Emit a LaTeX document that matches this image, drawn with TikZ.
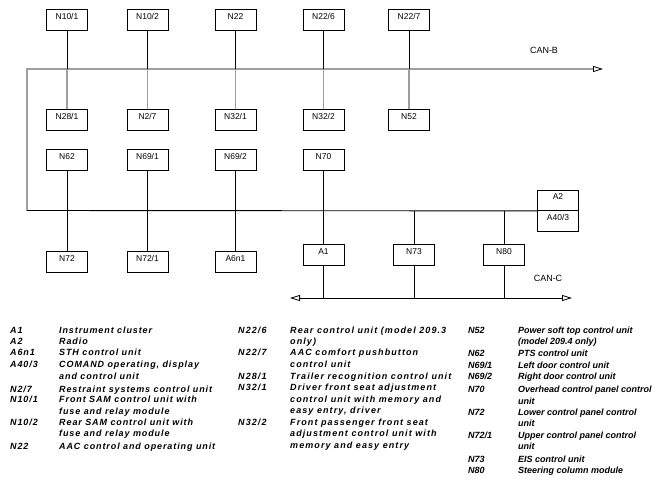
\documentclass[tikz,border=0pt]{standalone}
\usepackage{fontspec}
\setmainfont{Liberation Sans}
\newfontfamily\legfont{Liberation Sans}[LetterSpace=10]
\newfontfamily\legfontb{Liberation Sans}[LetterSpace=12]
\newfontfamily\legfontc{Liberation Sans}[LetterSpace=0]
\usetikzlibrary{arrows.meta}
\newcommand\legml[1]{\begin{tabular}[t]{@{}l@{}}#1\end{tabular}}
\begin{document}
\begin{tikzpicture}[x=1pt,y=-1pt,
  ecu/.style={draw,line width=0.8pt,minimum width=41pt,minimum height=21pt,
    inner xsep=1pt,inner ysep=3pt,text height=7pt,text depth=8pt,
    font=\fontsize{8.5}{10}\selectfont},
  half/.style={ecu,minimum height=20.5pt,text depth=7.5pt},
  wire/.style={line width=0.9pt,draw=black},
  graywire/.style={line width=1.3pt,draw=black!38},
  buslbl/.style={inner sep=0pt,font=\fontsize{9}{10}\selectfont},
  legc/.style={anchor=base west,inner sep=0pt,
    font=\legfont\bfseries\itshape\fontsize{9}{11.5}\selectfont},
  legcb/.style={legc,font=\legfontb\bfseries\itshape\fontsize{9}{11.5}\selectfont},
  legcc/.style={legc,font=\legfontc\bfseries\itshape\fontsize{9}{11.5}\selectfont},
  otip/.tip={Triangle[open,length=10pt,width=6pt,line width=0.8pt,black]}
]
\useasboundingbox (0,0) rectangle (665,487);
% top row
\node[ecu] (n101) at (67,20) {N10/1};
\node[ecu] (n102) at (147.5,20) {N10/2};
\node[ecu] (n22) at (235.5,20) {N22};
\node[ecu] (n226) at (323.5,20) {N22/6};
\node[ecu] (n227) at (409,20) {N22/7};
% second row
\node[ecu] (n281) at (67,120) {N28/1};
\node[ecu] (n27) at (147.5,120) {N2/7};
\node[ecu] (n321) at (235.5,120) {N32/1};
\node[ecu] (n322) at (323.5,120) {N32/2};
\node[ecu] (n52) at (409,120) {N52};
% third row
\node[ecu] (n62) at (67,160) {N62};
\node[ecu] (n691) at (147.5,160) {N69/1};
\node[ecu] (n692) at (235.5,160) {N69/2};
\node[ecu] (n70) at (323.5,160) {N70};
% fourth row
\node[ecu] (n72) at (67,261.5) {N72};
\node[ecu] (n721) at (147.5,261.5) {N72/1};
\node[ecu] (a6n1) at (235.5,261.5) {A6n1};
\node[ecu] (a1) at (323.5,254.5) {A1};
\node[ecu] (n73) at (414,254.5) {N73};
\node[ecu] (n80) at (504,254.5) {N80};
\node[half] (a2) at (558,200.25) {A2};
\node[half] (a403) at (558,220.75) {A40/3};
% bus coordinates
\coordinate (bL) at (27,69);
\coordinate (bR) at (603,69);
\coordinate (cB) at (27,210.5);
\coordinate (cL) at (290,298);
\coordinate (cR) at (572,298);
% CAN-B
\draw[graywire,-otip] (cB) -- (bL) -- (bR);
\foreach \t/\b in {n101/n281,n102/n27,n22/n321,n226/n322,n227/n52}{
  \draw[wire] (\t.south) -- (\t.south |- bL);
  \draw[graywire] (\t.south |- bL) -- (\b.north);
}
\node[buslbl] (canb) at (544,50) {CAN-B};
% black bus
\draw[wire] (cB) -- (a2.south west);
\foreach \t/\b in {n62/n72,n691/n721,n692/a6n1,n70/a1}{
  \draw[wire] (\t.south) -- (\b.north);
}
\draw[wire] (n73.north) -- (n73.north |- cB);
\draw[wire] (n80.north) -- (n80.north |- cB);
% CAN-C
\draw[wire,otip-otip] (cL) -- (cR);
\foreach \n in {a1,n73,n80}{
  \draw[wire] (\n.south) -- (\n.south |- cL);
}
\node[buslbl] (canc) at (548,278) {CAN-C};
% legend column 1
\node[legc] (kA1) at (10,333) {A1};
\node[legc] (dA1) at (59,333) {Instrument cluster};
\node[legc] (kA2) at (10,344.5) {A2};
\node[legc] (dA2) at (59,344.5) {Radio};
\node[legc] (kA6n1) at (10,355.5) {A6n1};
\node[legc] (dA6n1) at (59,355.5) {STH control unit};
\node[legc] (kA403) at (10,367.5) {A40/3};
\node[legc] (dA403) at (59,367.5) {\legml{COMAND operating, display\\and control unit}};
\node[legc] (kN27) at (10,392.5) {N2/7};
\node[legc] (dN27) at (59,392.5) {Restraint systems control unit};
\node[legc] (kN101) at (10,402.5) {N10/1};
\node[legc] (dN101) at (59,402.5) {\legml{Front SAM control unit with\\fuse and relay module}};
\node[legc] (kN102) at (10,425) {N10/2};
\node[legc] (dN102) at (59,425) {\legml{Rear SAM control unit with\\fuse and relay module}};
\node[legc] (kN22) at (10,449) {N22};
\node[legc] (dN22) at (59,449) {AAC control and operating unit};
% legend column 2
\node[legcb] (kN226) at (238,333) {N22/6};
\node[legcb] (dN226) at (290,333) {\legml{Rear control unit (model 209.3\\only)}};
\node[legcb] (kN227) at (238,355.5) {N22/7};
\node[legcb] (dN227) at (290,355.5) {\legml{AAC comfort pushbutton\\control unit}};
\node[legcb] (kN281) at (238,379) {N28/1};
\node[legcb] (dN281) at (290,379) {Trailer recognition control unit};
\node[legcb] (kN321) at (238,390.5) {N32/1};
\node[legcb] (dN321) at (290,390.5) {\legml{Driver front seat adjustment\\control unit with memory and\\easy entry, driver}};
\node[legcb] (kN322) at (238,425) {N32/2};
\node[legcb] (dN322) at (290,425) {\legml{Front passenger front seat\\adjustment control unit with\\memory and easy entry}};
% legend column 3
\node[legcc] (kN52) at (468,333) {N52};
\node[legcc] (dN52) at (518,333) {\legml{Power soft top control unit\\(model 209.4 only)}};
\node[legcc] (kN62) at (468,356) {N62};
\node[legcc] (dN62) at (518,356) {PTS control unit};
\node[legcc] (kN691) at (468,368) {N69/1};
\node[legcc] (dN691) at (518,368) {Left door control unit};
\node[legcc] (kN692) at (468,379) {N69/2};
\node[legcc] (dN692) at (518,379) {Right door control unit};
\node[legcc] (kN70) at (468,392.5) {N70};
\node[legcc] (dN70) at (518,392.5) {\legml{Overhead control panel control\\unit}};
\node[legcc] (kN72) at (468,415) {N72};
\node[legcc] (dN72) at (518,415) {\legml{Lower control panel control\\unit}};
\node[legcc] (kN721) at (468,438) {N72/1};
\node[legcc] (dN721) at (518,438) {\legml{Upper control panel control\\unit}};
\node[legcc] (kN73) at (468,462.5) {N73};
\node[legcc] (dN73) at (518,462.5) {EIS control unit};
\node[legcc] (kN80) at (468,473.5) {N80};
\node[legcc] (dN80) at (518,473.5) {Steering column module};
\end{tikzpicture}
\end{document}
